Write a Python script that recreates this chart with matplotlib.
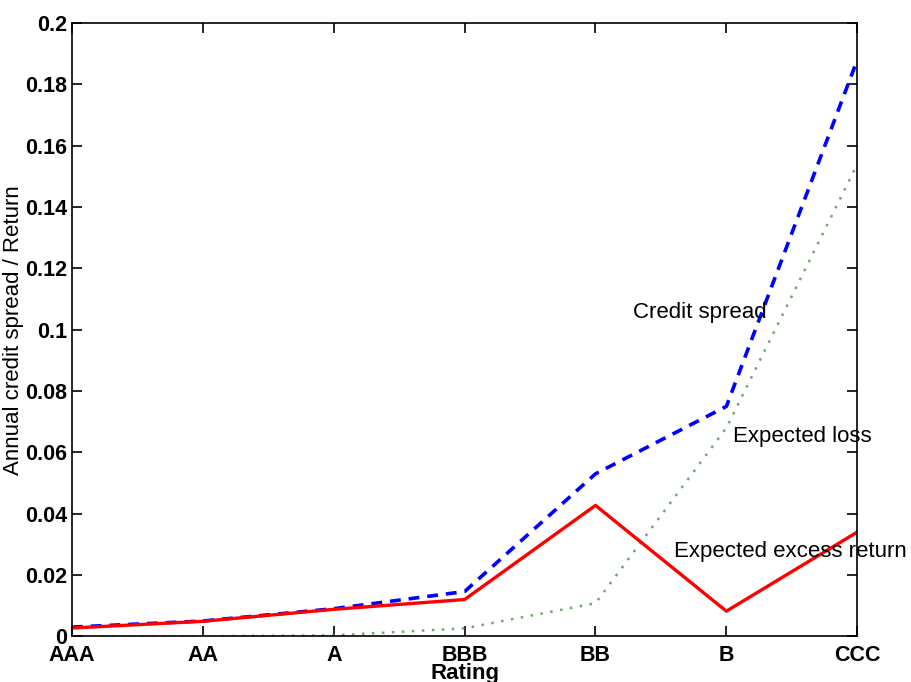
import matplotlib.pyplot as plt
import numpy as np
from matplotlib.ticker import FormatStrFormatter

ratings = ['AAA', 'AA', 'A', 'BBB', 'BB', 'B', 'CCC']
credit_spread = [0.003, 0.005, 0.009, 0.0146, 0.053, 0.075, 0.188]
expected_loss = [0.0, 0.0, 0.0003, 0.0026, 0.0108, 0.068, 0.154]
excess_return = [0.0027, 0.0049, 0.0088, 0.012, 0.0427, 0.0082, 0.034]

plt.rcParams['font.family'] = ['Liberation Sans', 'DejaVu Sans']

fig = plt.figure(figsize=(9.11, 6.82), dpi=100)
ax = fig.add_axes([0.079, 0.067, 0.862, 0.899])

x = np.arange(len(ratings))
ax.plot(x, credit_spread, color='blue', linestyle=(0, (3, 2.2)), linewidth=2.6)
ax.plot(x, expected_loss, color='#6aaa6a', linestyle=(0, (1, 3)), linewidth=1.8)
ax.plot(x, excess_return, color='red', linestyle='-', linewidth=2.4)

ax.set_xlim(0, len(ratings) - 1)
ax.set_ylim(0, 0.2)
ax.set_xticks(x)
ax.set_xticklabels(ratings)
ax.set_yticks(np.arange(0, 0.201, 0.02))
ax.yaxis.set_major_formatter(FormatStrFormatter('%g'))
ax.tick_params(direction='in', length=7, width=1.2, top=True, right=True,
               labelsize=15.5)
ax.tick_params(axis='x', pad=6)
for lab in ax.get_xticklabels() + ax.get_yticklabels():
    lab.set_fontweight('bold')
for s in ax.spines.values():
    s.set_linewidth(1.2)

ax.set_xlabel('Rating', fontsize=16, fontweight='bold', labelpad=-2)
ax.set_ylabel('Annual credit spread / Return', fontsize=16, labelpad=1)

ax.text(4.29, 0.1057, 'Credit spread', fontsize=16, va='center', clip_on=False)
ax.text(5.05, 0.0652, 'Expected loss', fontsize=16, va='center', clip_on=False)
ax.text(4.6, 0.0277, 'Expected excess return', fontsize=16, va='center', clip_on=False)

fig.savefig('out.png', dpi=100)
